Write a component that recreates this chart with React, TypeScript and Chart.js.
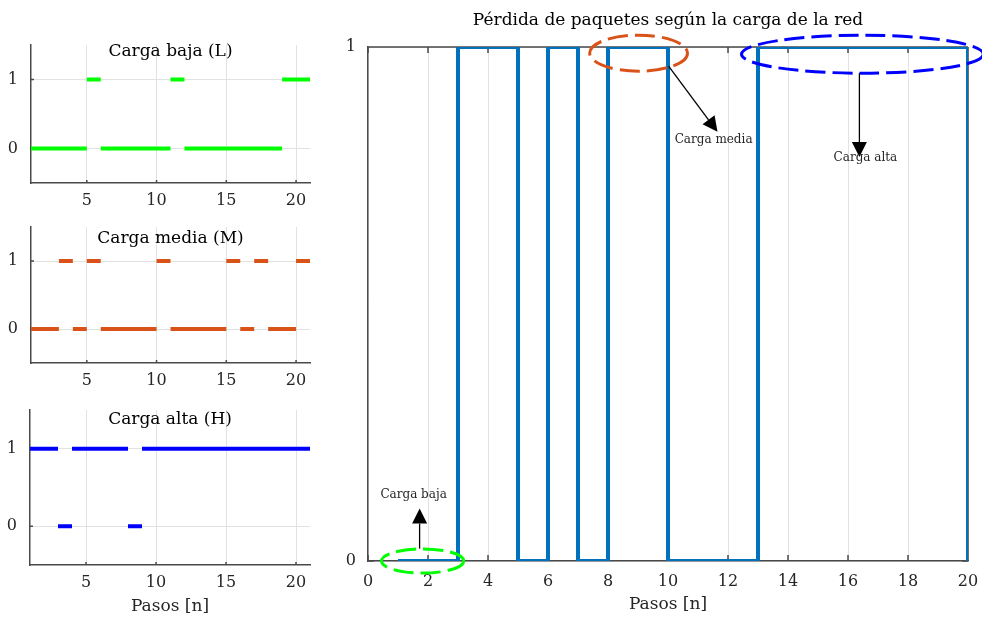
import React, { useEffect, useRef } from 'react';
import { Chart, registerables } from 'chart.js';

Chart.register(...registerables);

// ---------- data ----------
const steps = [1, 2, 3, 4, 5, 6, 7, 8, 9, 10, 11, 12, 13, 14, 15, 16, 17, 18, 19, 20];
const packetLoss = [0, 0, 1, 1, 0, 1, 0, 1, 1, 0, 0, 0, 1, 1, 1, 1, 1, 1, 1, 0];
const lowLoad = [0, 0, 0, 0, 1, 0, 0, 0, 0, 0, 1, 0, 0, 0, 0, 0, 0, 0, 1, 1];
const mediumLoad = [0, 0, 1, 0, 1, 0, 0, 0, 0, 1, 0, 0, 0, 0, 1, 0, 1, 0, 0, 1];
const highLoad = [1, 1, 0, 1, 1, 1, 1, 0, 1, 1, 1, 1, 1, 1, 1, 1, 1, 1, 1, 1];

const mainXTicks = [0, 2, 4, 6, 8, 10, 12, 14, 16, 18, 20];
const panelXTicks = [5, 10, 15, 20];
const levelTicks = [0, 1];

// annotations (data coordinates of the main chart)
const ellipseCenterX = [1.82, 9.02, 16.48];
const ellipseCenterY = [0, 0.988, 0.986];
const ellipseRadiusX = [1.37, 1.63, 4.03];
const ellipseRadiusY = [0.0235, 0.035, 0.037];
const ellipseColors = ['#00FF00', '#D95319', '#0000FF'];

const arrowFromX = [1.72, 10.02, 16.38];
const arrowFromY = [0.024, 0.963, 0.949];
const arrowToX = [1.72, 11.65, 16.38];
const arrowToY = [0.102, 0.835, 0.786];

const noteLabels = ['Carga baja', 'Carga media', 'Carga alta'];
const noteX = [1.52, 11.52, 16.58];
const noteY = [0.128, 0.819, 0.785];

// ---------- styles ----------
const FONT = "'DejaVu Serif', serif";
const AXIS = '#4a4a4a';
const GRID = '#e2e2e2';
const TEXT = '#262626';
const TICK_SIZE = 16;

function runsToPoints(states: number[]) {
  const pts: { x: number; y: number | null }[] = [];
  let start = 0;
  for (let i = 1; i <= states.length; i++) {
    if (i === states.length || states[i] !== states[start]) {
      const x0 = steps[start];
      const x1 = i < states.length ? steps[i] : steps[states.length - 1] + 1;
      pts.push({ x: x0, y: states[start] }, { x: x1, y: states[start] }, { x: x1, y: null });
      start = i;
    }
  }
  return pts;
}

function zeroPadding(s: any) {
  s.paddingLeft = 0;
  s.paddingRight = 0;
  s.paddingTop = 0;
  s.paddingBottom = 0;
}

const boxPlugin = {
  id: 'boxTicks',
  beforeDatasetsDraw(chart: any, _args: any, opts: any) {
    const { ctx, chartArea: a, scales } = chart;
    const x = scales.x;
    const y = scales.y;
    ctx.save();
    ctx.strokeStyle = AXIS;
    ctx.lineWidth = 1.5;
    ctx.beginPath();
    if (opts.box) {
      ctx.moveTo(a.left, a.top);
      ctx.lineTo(a.right, a.top);
      ctx.moveTo(a.right, a.top);
      ctx.lineTo(a.right, a.bottom);
    }
    const tl = opts.tick || 0;
    x.ticks.forEach((t: any) => {
      const px = x.getPixelForValue(t.value);
      ctx.moveTo(px, a.bottom);
      ctx.lineTo(px, a.bottom - tl);
      if (opts.box) {
        ctx.moveTo(px, a.top);
        ctx.lineTo(px, a.top + tl);
      }
    });
    y.ticks.forEach((t: any) => {
      const py = y.getPixelForValue(t.value);
      ctx.moveTo(a.left, py);
      ctx.lineTo(a.left + tl, py);
      if (opts.box) {
        ctx.moveTo(a.right, py);
        ctx.lineTo(a.right - tl, py);
      }
    });
    ctx.stroke();
    ctx.restore();
  },
};

const panelTitlePlugin = {
  id: 'panelTitle',
  afterDraw(chart: any, _args: any, opts: any) {
    if (!opts.text) return;
    const { ctx, chartArea: a } = chart;
    ctx.save();
    ctx.font = `17px ${FONT}`;
    ctx.fillStyle = '#000';
    ctx.textAlign = 'center';
    ctx.textBaseline = 'alphabetic';
    ctx.fillText(opts.text, (a.left + a.right) / 2, opts.baseline);
    ctx.restore();
  },
};

const annotationPlugin = {
  id: 'notes',
  afterDraw(chart: any) {
    const { ctx, scales } = chart;
    const x = scales.x;
    const y = scales.y;
    ctx.save();
    for (let i = 0; i < ellipseCenterX.length; i++) {
      const cx = x.getPixelForValue(ellipseCenterX[i]);
      const cy = y.getPixelForValue(ellipseCenterY[i]);
      const rx = Math.abs(x.getPixelForValue(ellipseCenterX[i] + ellipseRadiusX[i]) - cx);
      const ry = Math.abs(y.getPixelForValue(ellipseCenterY[i] + ellipseRadiusY[i]) - cy);
      ctx.beginPath();
      ctx.setLineDash([20, 7]);
      ctx.lineWidth = 3;
      ctx.strokeStyle = ellipseColors[i];
      ctx.ellipse(cx, cy, rx, ry, 0, 0, Math.PI * 2);
      ctx.stroke();
    }
    ctx.setLineDash([]);
    for (let i = 0; i < arrowFromX.length; i++) {
      const x1 = x.getPixelForValue(arrowFromX[i]);
      const y1 = y.getPixelForValue(arrowFromY[i]);
      const x2 = x.getPixelForValue(arrowToX[i]);
      const y2 = y.getPixelForValue(arrowToY[i]);
      const ang = Math.atan2(y2 - y1, x2 - x1);
      const hl = 15;
      const hw = 7.5;
      const bx = x2 - hl * Math.cos(ang);
      const by = y2 - hl * Math.sin(ang);
      ctx.beginPath();
      ctx.strokeStyle = '#000';
      ctx.lineWidth = 1.3;
      ctx.moveTo(x1, y1);
      ctx.lineTo(bx, by);
      ctx.stroke();
      ctx.beginPath();
      ctx.fillStyle = '#000';
      ctx.moveTo(x2, y2);
      ctx.lineTo(bx + hw * Math.sin(ang), by - hw * Math.cos(ang));
      ctx.lineTo(bx - hw * Math.sin(ang), by + hw * Math.cos(ang));
      ctx.closePath();
      ctx.fill();
    }
    ctx.font = `12px ${FONT}`;
    ctx.fillStyle = TEXT;
    ctx.textAlign = 'center';
    ctx.textBaseline = 'middle';
    for (let i = 0; i < noteLabels.length; i++) {
      ctx.fillText(noteLabels[i], x.getPixelForValue(noteX[i]), y.getPixelForValue(noteY[i]));
    }
    ctx.restore();
  },
};

type Area = { left: number; top: number; right: number; bottom: number };

function panelConfig(
  states: number[],
  color: string,
  title: string,
  baseline: number,
  w: number,
  h: number,
  area: Area,
  xTitle: string | null
): any {
  return {
    type: 'line',
    data: {
      datasets: [
        {
          data: runsToPoints(states),
          borderColor: color,
          borderWidth: 4,
          pointRadius: 0,
          spanGaps: false,
          tension: 0,
          borderCapStyle: 'butt',
        },
      ],
    },
    options: {
      animation: false,
      responsive: false,
      devicePixelRatio: 1,
      layout: { padding: { left: 0, top: area.top, right: w - area.right, bottom: 0 } },
      plugins: {
        legend: { display: false },
        tooltip: { enabled: false },
        title: { display: false },
        boxTicks: { box: false, tick: 3 },
        panelTitle: { text: title, baseline },
      },
      scales: {
        x: {
          type: 'linear',
          min: 1,
          max: 21,
          afterBuildTicks: (s: any) => {
            s.ticks = panelXTicks.map((v) => ({ value: v }));
          },
          afterFit: (s: any) => {
            s.height = h - area.bottom;
            zeroPadding(s);
          },
          ticks: { font: { family: FONT, size: TICK_SIZE }, color: TEXT, padding: 8, maxRotation: 0, autoSkip: false },
          grid: { color: GRID, lineWidth: 1, drawTicks: false },
          border: { color: AXIS, width: 1.5 },
          title: xTitle
            ? { display: true, text: xTitle, font: { family: FONT, size: 17 }, color: TEXT, padding: { top: 0, bottom: 5 } }
            : { display: false },
        },
        y: {
          type: 'linear',
          min: -0.5,
          max: 1.5,
          afterBuildTicks: (s: any) => {
            s.ticks = levelTicks.map((v) => ({ value: v }));
          },
          afterFit: (s: any) => {
            s.width = area.left;
            zeroPadding(s);
          },
          ticks: { font: { family: FONT, size: TICK_SIZE }, color: TEXT, padding: 13 },
          grid: { color: GRID, lineWidth: 1, drawTicks: false },
          border: { color: AXIS, width: 1.5 },
        },
      },
    },
    plugins: [boxPlugin, panelTitlePlugin],
  };
}

function mainConfig(w: number, h: number, area: Area): any {
  return {
    type: 'line',
    data: {
      datasets: [
        {
          data: steps.map((s, i) => ({ x: s, y: packetLoss[i] })),
          borderColor: '#0072BD',
          borderWidth: 4,
          pointRadius: 0,
          stepped: 'before',
          borderJoinStyle: 'miter',
          borderCapStyle: 'butt',
        },
      ],
    },
    options: {
      animation: false,
      responsive: false,
      devicePixelRatio: 1,
      layout: { padding: { left: 0, top: 0, right: w - area.right, bottom: 0 } },
      plugins: {
        legend: { display: false },
        tooltip: { enabled: false },
        title: {
          display: true,
          text: 'Pérdida de paquetes según la carga de la red',
          fullSize: false,
          color: '#000',
          font: { family: FONT, size: 17, weight: 'normal' },
          padding: { top: 10, bottom: area.top - 10 - 17 * 1.2 },
        },
        boxTicks: { box: true, tick: 6 },
      },
      scales: {
        x: {
          type: 'linear',
          min: 0,
          max: 20,
          afterBuildTicks: (s: any) => {
            s.ticks = mainXTicks.map((v) => ({ value: v }));
          },
          afterFit: (s: any) => {
            s.height = h - area.bottom;
            zeroPadding(s);
          },
          ticks: { font: { family: FONT, size: TICK_SIZE }, color: TEXT, padding: 11, maxRotation: 0, autoSkip: false },
          grid: { color: GRID, lineWidth: 1, drawTicks: false },
          border: { color: AXIS, width: 1.5 },
          title: { display: true, text: 'Pasos [n]', font: { family: FONT, size: 17 }, color: TEXT, padding: { top: 0, bottom: 7 } },
        },
        y: {
          type: 'linear',
          min: 0,
          max: 1,
          afterBuildTicks: (s: any) => {
            s.ticks = levelTicks.map((v) => ({ value: v }));
          },
          afterFit: (s: any) => {
            s.width = area.left;
            zeroPadding(s);
          },
          ticks: { font: { family: FONT, size: TICK_SIZE }, color: TEXT, padding: 12 },
          grid: { color: GRID, lineWidth: 1, drawTicks: false },
          border: { color: AXIS, width: 1.5 },
        },
      },
    },
    plugins: [boxPlugin, annotationPlugin],
  };
}

function ChartCanvas(props: { left: number; top: number; width: number; height: number; make: () => any }) {
  const ref = useRef<HTMLCanvasElement>(null);
  useEffect(() => {
    const chart = new Chart(ref.current as HTMLCanvasElement, props.make());
    return () => chart.destroy();
  }, []);
  return (
    <canvas
      ref={ref}
      width={props.width}
      height={props.height}
      style={{ position: 'absolute', left: props.left, top: props.top, width: props.width, height: props.height }}
    />
  );
}

export default function App() {
  return (
    <div style={{ position: 'fixed', left: 0, top: 0, width: 982, height: 622, background: '#fff', overflow: 'hidden' }}>
      <ChartCanvas
        left={0}
        top={25}
        width={330}
        height={187}
        make={() => panelConfig(lowLoad, '#00FF00', 'Carga baja (L)', 31, 330, 187, { left: 31, top: 20, right: 310, bottom: 158 }, null)}
      />
      <ChartCanvas
        left={0}
        top={212}
        width={330}
        height={183}
        make={() => panelConfig(mediumLoad, '#D95319', 'Carga media (M)', 31, 330, 183, { left: 31, top: 15, right: 310, bottom: 151 }, null)}
      />
      <ChartCanvas
        left={0}
        top={395}
        width={330}
        height={227}
        make={() => panelConfig(highLoad, '#0000FF', 'Carga alta (H)', 29, 330, 227, { left: 30, top: 15, right: 310, bottom: 170 }, 'Pasos [n]')}
      />
      <ChartCanvas
        left={330}
        top={0}
        width={652}
        height={622}
        make={() => mainConfig(652, 622, { left: 38, top: 47, right: 638, bottom: 561 })}
      />
    </div>
  );
}
